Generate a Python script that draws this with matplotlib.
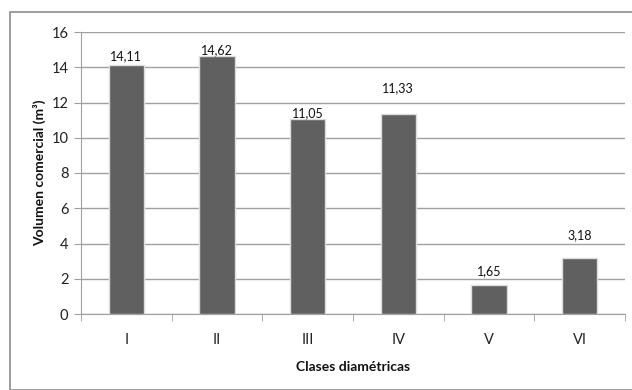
import matplotlib
matplotlib.use("Agg")
import matplotlib.pyplot as plt
from matplotlib.patches import Rectangle

classes = ["I", "II", "III", "IV", "V", "VI"]
volumes = [14.11, 14.62, 11.05, 11.33, 1.65, 3.18]
yticks = [0, 2, 4, 6, 8, 10, 12, 14, 16]
# vertical label offsets above bar tops (pixels)
label_lift = [9, 6, 6, 26, 14, 23]

plt.rcParams["font.family"] = ["Lato", "DejaVu Sans"]

fig = plt.figure(figsize=(6.32, 3.90), dpi=100)
W, H = 632, 390

# outer chart frame
fig.patches.append(Rectangle((10 / W, 0), 1.0, 1 - 12 / H, transform=fig.transFigure,
                             fill=False, edgecolor="#8c8c8c", linewidth=1.2))

ax = fig.add_axes([81 / W, 1 - 314 / H, (625 - 81) / W, (314 - 32) / H])
x = list(range(len(classes)))
bars = ax.bar(x, volumes, width=0.39, color="#606060", edgecolor="#dcdcdc",
              linewidth=1.0, zorder=3)

for xi, v, lift in zip(x, volumes, label_lift):
    ax.annotate(f"{v:.2f}".replace(".", ","), (xi, v), xytext=(0, lift),
                textcoords="offset pixels", ha="center", va="center",
                fontsize=9, color="#111111")

ax.set_xlim(-0.5, len(classes) - 0.5)
ax.set_ylim(0, 16)
ax.set_yticks(yticks)
ax.set_xticks(x)
ax.set_xticklabels(classes)
ax.set_xticks([i + 0.5 for i in range(-1, len(classes))], minor=True)

ax.yaxis.grid(True, color="#a0a0a0", linewidth=1.0, zorder=0)
ax.set_axisbelow(True)
for s in ["top", "right"]:
    ax.spines[s].set_visible(False)
ax.spines["left"].set_color("#a0a0a0")
ax.spines["bottom"].set_color("#a0a0a0")

ax.tick_params(axis="y", length=5, color="#a0a0a0", labelsize=10.5, labelcolor="#222222", pad=4)
ax.tick_params(axis="x", which="major", length=0, labelsize=10.5, labelcolor="#222222", pad=14)
ax.tick_params(axis="x", which="minor", length=5, color="#a0a0a0")

ax.set_xlabel("Clases diamétricas", fontsize=10, fontweight="bold", labelpad=10, color="#111111")
ax.set_ylabel("Volumen comercial (m³)", fontsize=10, fontweight="bold", labelpad=4, color="#111111")

fig.savefig("out.png", dpi=100)
